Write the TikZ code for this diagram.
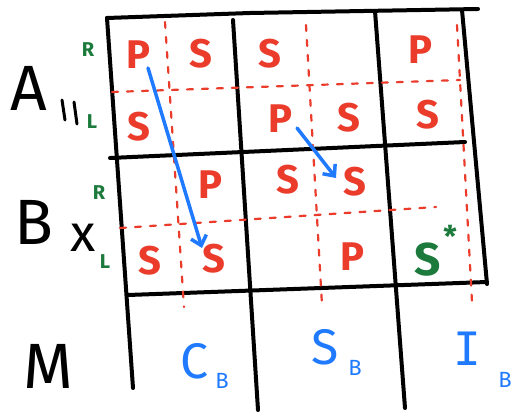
\documentclass[tikz,border=0pt]{standalone}
\usepackage{fontspec}
\setmainfont{Fira Sans}
\newfontfamily\monofam{DejaVu Sans Mono}
\usetikzlibrary{arrows.meta}
\definecolor{cred}{HTML}{EA3B2B}
\definecolor{cgreen}{HTML}{1B7A3C}
\definecolor{cblue}{HTML}{1F7AFF}
\tikzset{
  grid/.style={line width=4pt, line cap=round, line join=round, black},
  sub/.style={cred, line width=2.2pt, line cap=round, dash pattern=on 6pt off 9pt},
  mv/.style={cblue, line width=3.5pt, line cap=round, -{Straight Barb[length=9pt,width=16pt,line width=3.5pt]}},
  red/.style={cred, font=\fontsize{40}{40}\selectfont\bfseries, inner sep=0pt},
  grn/.style={cgreen, font=\fontsize{20}{20}\selectfont\bfseries, inner sep=0pt},
  big/.style={black, font=\fontsize{64}{64}\selectfont, inner sep=0pt},
  lbl/.style={cblue, font=\fontsize{50}{50}\selectfont, inner sep=0pt},
  lsub/.style={cblue, font=\fontsize{22}{22}\selectfont, inner sep=0pt},
}
\begin{document}
\begin{tikzpicture}[x=1pt,y=-1pt]
\useasboundingbox (0,0) rectangle (513,414);
% grid
\draw[grid] (107,18) -- (250,13) -- (478,9);
\draw[grid] (107,18) -- (133,388);
\draw[grid] (462,10) -- (487,284);
\draw[grid] (110,158) -- (465,142);
\draw[grid] (128,295) -- (487,282);
\draw[grid] (233,20) -- (258,410);
\draw[grid] (375,11) -- (405,408);
% red subdivisions
\draw[sub] (165,22) -- (184,307);
\draw[sub] (306,25) -- (322,305);
\draw[sub] (457,25) -- (472,302);
\draw[sub] (112,92) -- (460,80);
\draw[sub] (120,228) -- (436,207);
% row labels
\node[big] (A) at (29,88) {A};
\node[big] (B) at (34,222) {B};
\node[big] (M) at (48,366) {M};
\draw[line width=3pt, line cap=round] (62,100) -- (65,120) (74,102) -- (77,124);
\node[black, font=\fontsize{52}{52}\selectfont, inner sep=0pt] (x) at (83,238) {x};
\node[grn] (r1) at (88,50) {R};
\node[grn] (l1) at (92,122) {L};
\node[grn] (r2) at (99,193) {R};
\node[grn] (l2) at (105,262) {L};
% cells
\node[red] (p1) at (138,55) {P};
\node[red] (s1) at (201,54) {S};
\node[red] (s2) at (270,54) {S};
\node[red] (p2) at (420,50) {P};
\node[red] (s3) at (139,127) {S};
\node[red] (p3) at (280,119) {P};
\node[red] (s4) at (349,118) {S};
\node[red] (s5) at (428,115) {S};
\node[red] (p4) at (210,185) {P};
\node[red] (s6) at (288,180) {S};
\node[red] (s7) at (355,182) {S};
\node[red] (s8) at (150,261) {S};
\node[red] (s9) at (214,259) {S};
\node[red] (p5) at (352,257) {P};
\node[cgreen, font=\fontsize{46}{46}\selectfont\bfseries, inner sep=0pt] (ss) at (428,260) {S};
\node[cgreen, font=\fontsize{30}{30}\selectfont\bfseries, inner sep=0pt] (star) at (450,236) {*};
% bottom labels
\node[lbl] (cb) at (194,361) {C};
\node[lsub] (cbs) at (222,381) {B};
\node[lbl] (sb) at (325,347) {S};
\node[lsub] (sbs) at (355,368) {B};
\node[lbl, font=\fontsize{46}{46}\monofam] (ib) at (467,349) {I};
\node[lsub] (ibs) at (505,380) {B};
% moves
\coordinate (m1a) at (148,68);
\coordinate (m1b) at (202,248);
\coordinate (m2a) at (297,128);
\coordinate (m2b) at (336,178);
\draw[mv] (m1a) -- (m1b);
\draw[mv] (m2a) -- (m2b);
\end{tikzpicture}
\end{document}
